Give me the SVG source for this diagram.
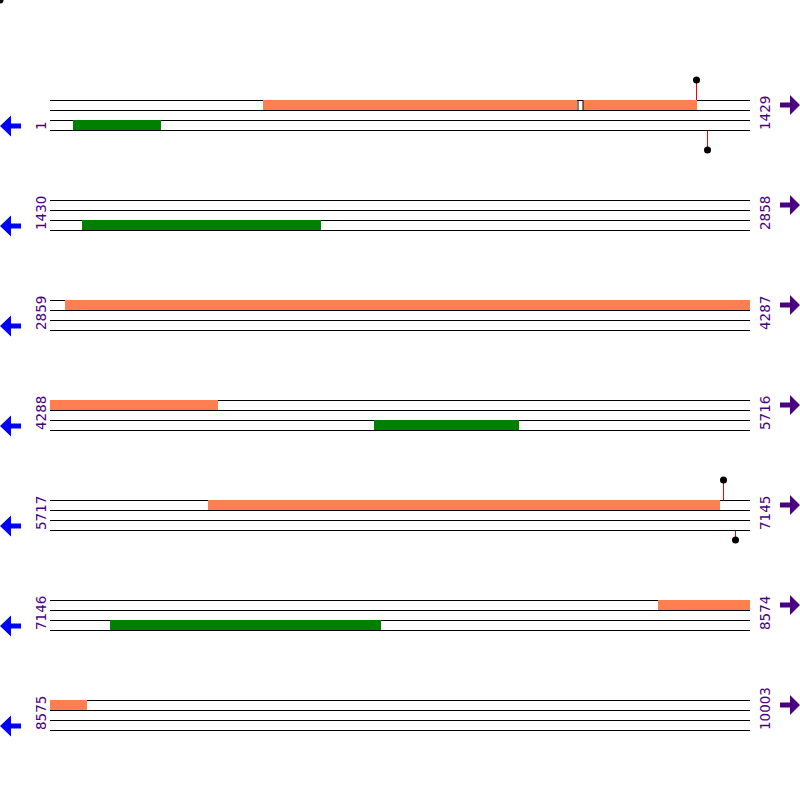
<svg xmlns="http://www.w3.org/2000/svg" width="800" height="800" viewBox="0 0 800 800">
<style>
.ln{stroke:#000;stroke-width:1;shape-rendering:crispEdges}
.or{fill:#ff7f50;shape-rendering:crispEdges}
.gr{fill:#008000;shape-rendering:crispEdges}
.lab{font-family:"DejaVu Sans",sans-serif;font-size:13.5px;fill:#4b0082}
.la{fill:#0000ff}
.ra{fill:#4b0082}
.st{stroke:#ff0000;stroke-width:1}
</style>
<defs>
<g id="tracks">
<line class="ln" x1="50" y1="100.5" x2="750" y2="100.5"/>
<line class="ln" x1="50" y1="110.5" x2="750" y2="110.5"/>
<line class="ln" x1="50" y1="120.5" x2="750" y2="120.5"/>
<line class="ln" x1="50" y1="130.5" x2="750" y2="130.5"/>
</g>
<polygon id="larr" points="0,126 11,115.5 11,123.5 21,123.5 21,128.5 11,128.5 11,136.5"/>
<polygon id="rarr" points="800,105 790,95 790,102.5 780,102.5 780,107.5 790,107.5 790,115"/>
</defs>
<circle cx="0" cy="0" r="3.5" fill="#000"/>
<g id="row1">
<use href="#tracks"/>
<rect class="or" x="263" y="100" width="314" height="10"/>
<rect class="or" x="583" y="100" width="114" height="10"/>
<rect x="578" y="100.5" width="5" height="10" fill="#fff" stroke="#000" stroke-width="1"/>
<rect class="gr" x="73" y="120" width="88" height="10"/>
<line class="st" x1="696.5" y1="100" x2="696.5" y2="80"/>
<circle cx="696.5" cy="80" r="3.5" fill="#000"/>
<line class="st" x1="707.5" y1="131" x2="707.5" y2="150"/>
<circle cx="707.5" cy="150" r="3.5" fill="#000"/>
<text class="lab" transform="translate(46,130) rotate(-90)">1</text>
<text class="lab" transform="translate(770,130) rotate(-90)">1429</text>
<use href="#larr" class="la"/>
<use href="#rarr" class="ra"/>
</g>
<g id="row2" transform="translate(0,100)">
<use href="#tracks"/>
<rect class="gr" x="82" y="120" width="239" height="10"/>
<text class="lab" transform="translate(46,130) rotate(-90)">1430</text>
<text class="lab" transform="translate(770,130) rotate(-90)">2858</text>
<use href="#larr" class="la"/>
<use href="#rarr" class="ra"/>
</g>
<g id="row3" transform="translate(0,200)">
<use href="#tracks"/>
<rect class="or" x="65" y="100" width="685" height="10"/>
<text class="lab" transform="translate(46,130) rotate(-90)">2859</text>
<text class="lab" transform="translate(770,130) rotate(-90)">4287</text>
<use href="#larr" class="la"/>
<use href="#rarr" class="ra"/>
</g>
<g id="row4" transform="translate(0,300)">
<use href="#tracks"/>
<rect class="or" x="50" y="100" width="168" height="10"/>
<rect class="gr" x="374" y="120" width="145" height="10"/>
<text class="lab" transform="translate(46,130) rotate(-90)">4288</text>
<text class="lab" transform="translate(770,130) rotate(-90)">5716</text>
<use href="#larr" class="la"/>
<use href="#rarr" class="ra"/>
</g>
<g id="row5" transform="translate(0,400)">
<use href="#tracks"/>
<rect class="or" x="208" y="100" width="512" height="10"/>
<line class="st" x1="723.5" y1="100" x2="723.5" y2="80"/>
<circle cx="723.5" cy="80" r="3.5" fill="#000"/>
<line class="st" x1="735.5" y1="131" x2="735.5" y2="140"/>
<circle cx="735.5" cy="140" r="3.5" fill="#000"/>
<text class="lab" transform="translate(46,130) rotate(-90)">5717</text>
<text class="lab" transform="translate(770,130) rotate(-90)">7145</text>
<use href="#larr" class="la"/>
<use href="#rarr" class="ra"/>
</g>
<g id="row6" transform="translate(0,500)">
<use href="#tracks"/>
<rect class="or" x="658" y="100" width="92" height="10"/>
<rect class="gr" x="110" y="120" width="271" height="10"/>
<text class="lab" transform="translate(46,130) rotate(-90)">7146</text>
<text class="lab" transform="translate(770,130) rotate(-90)">8574</text>
<use href="#larr" class="la"/>
<use href="#rarr" class="ra"/>
</g>
<g id="row7" transform="translate(0,600)">
<use href="#tracks"/>
<rect class="or" x="50" y="100" width="37" height="10"/>
<text class="lab" transform="translate(46,130) rotate(-90)">8575</text>
<text class="lab" transform="translate(770,130) rotate(-90)">10003</text>
<use href="#larr" class="la"/>
<use href="#rarr" class="ra"/>
</g>
</svg>
